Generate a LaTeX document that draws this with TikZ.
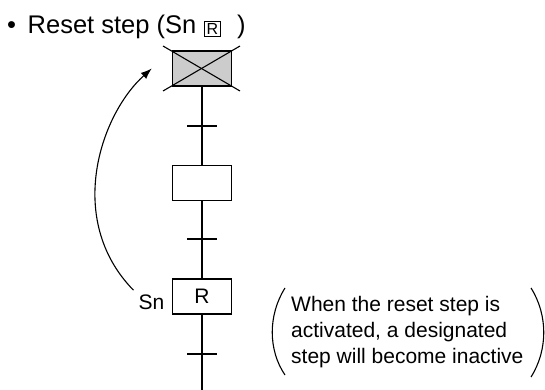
\documentclass[tikz,border=0pt]{standalone}
\usepackage{fontspec}
\setmainfont{Liberation Sans}
\usetikzlibrary{arrows.meta}
\begin{document}
\begin{tikzpicture}[x=1pt,y=-1pt,
  stepbox/.style={draw,line width=1.5pt,fill=white,minimum width=59pt,minimum height=35pt,inner sep=0pt,font=\fontsize{21}{25}\selectfont},
  tickline/.style={line width=2.5pt},
  txt/.style={inner sep=0pt,font=\fontsize{21}{26}\selectfont},
  thin/.style={line width=1.1pt}]
\useasboundingbox (0,0) rectangle (545,390);
% title
\node[inner sep=0pt,font=\fontsize{25.5}{30}\selectfont,anchor=base west] (bul) at (7,34) {\textbullet};
\node[inner sep=0pt,font=\fontsize{25.5}{30}\selectfont,anchor=base west] (title) at (27.5,34) {Reset step (Sn};
\node[draw,line width=1.2pt,minimum width=15.5pt,minimum height=14.5pt,inner sep=0pt,font=\fontsize{16}{16}\selectfont] (rbox) at (212.5,29) {R};
\node[inner sep=0pt,font=\fontsize{25.5}{30}\selectfont,anchor=base west] (close) at (237,34) {)};
% steps
\node[stepbox,fill=gray!40] (s0) at (202,68.5) {};
\draw[thin] (163,46) -- (240,91);
\draw[thin] (163,91) -- (240,46);
\node[stepbox] (s1) at (202,183) {};
\node[stepbox] (s2) at (202,296.5) {R};
\coordinate (bot) at (202,390);
\coordinate (t1) at (202,126);
\coordinate (t2) at (202,239);
\coordinate (t3) at (202,354);
\draw[tickline] (s0) -- (s1);
\draw[tickline] (s1) -- (s2);
\draw[tickline] (s2) -- (bot);
\foreach \t in {t1,t2,t3}
  \draw[tickline] ([xshift=-15pt]\t) -- ([xshift=15pt]\t);
% Sn label and arrow
\node[txt,anchor=base east] (sn) at (164.5,309) {Sn};
\draw[thin,-{Latex[length=11pt,width=8pt]}] ([shift={(-5,-4)}]sn.north west) .. controls (65,220) and (100,115) .. ([xshift=-20pt]s0.west);
% note
\node[txt,anchor=base west] (l1) at (291,311) {When the reset step is};
\node[txt,anchor=base west] (l2) at (291,337) {activated, a designated};
\node[txt,anchor=base west] (l3) at (291,363) {step will become inactive};
\draw[thin] (285,288) .. controls (268,315) and (268,350) .. (285,375);
\draw[thin] (531,288) .. controls (548,315) and (548,350) .. (531,377);
\end{tikzpicture}
\end{document}
